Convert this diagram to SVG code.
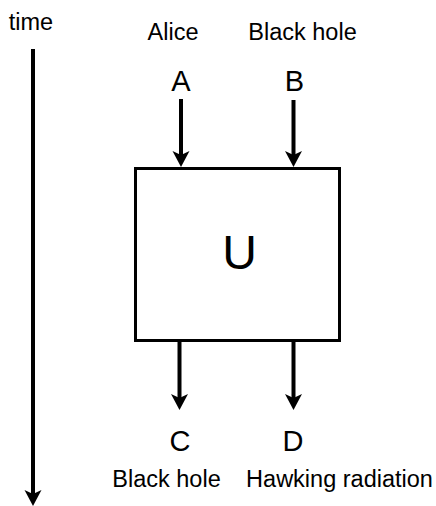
<svg xmlns="http://www.w3.org/2000/svg" width="436" height="506" viewBox="0 0 436 506">
  <style>
    text { font-family: "Liberation Sans", Arial, sans-serif; fill: #000; text-anchor: middle; }
    .label { font-size: 23.5px; }
    .port { font-size: 29px; }
    .big { font-size: 48px; }
    .wire { stroke: #000; stroke-width: 4; fill: none; }
    .box { fill: #fff; stroke: #000; stroke-width: 3; }
  </style>
  <defs>
    <marker id="head" markerUnits="userSpaceOnUse" viewBox="0 -9 16 18" markerWidth="16" markerHeight="18" refX="4" refY="0" orient="auto">
      <path d="M0,-8.5 L16,0 L0,8.5 L4,0 Z" fill="#000"/>
    </marker>
  </defs>

  <rect width="436" height="506" fill="#fff"/>

  <!-- time axis -->
  <g id="time">
    <text class="label" x="31" y="30">time</text>
  </g>

  <!-- unitary box -->
  <g id="U">
    <rect class="box" x="135.5" y="168.5" width="204" height="172"/>
    <text class="big" x="239.5" y="269">U</text>
  </g>

  <!-- inputs -->
  <g id="A">
    <text class="label" x="173" y="40">Alice</text>
    <text class="port" x="181" y="91">A</text>
  </g>
  <g id="B">
    <text class="label" x="302.5" y="40">Black hole</text>
    <text class="port" x="294.5" y="91">B</text>
  </g>

  <!-- outputs -->
  <g id="C">
    <text class="port" x="180" y="451">C</text>
    <text class="label" x="166.5" y="487">Black hole</text>
  </g>
  <g id="D">
    <text class="port" x="293" y="451">D</text>
    <text class="label" x="339.5" y="487">Hawking radiation</text>
  </g>

  <!-- connectors -->
  <g id="connectors">
    <line class="wire" x1="33" y1="49" x2="33" y2="494" marker-end="url(#head)"/>
    <line class="wire" x1="181" y1="99" x2="181" y2="155" marker-end="url(#head)"/>
    <line class="wire" x1="293.5" y1="100" x2="293.5" y2="155" marker-end="url(#head)"/>
    <line class="wire" x1="179.5" y1="340" x2="179.5" y2="398" marker-end="url(#head)"/>
    <line class="wire" x1="293.5" y1="340" x2="293.5" y2="398" marker-end="url(#head)"/>
  </g>
</svg>
